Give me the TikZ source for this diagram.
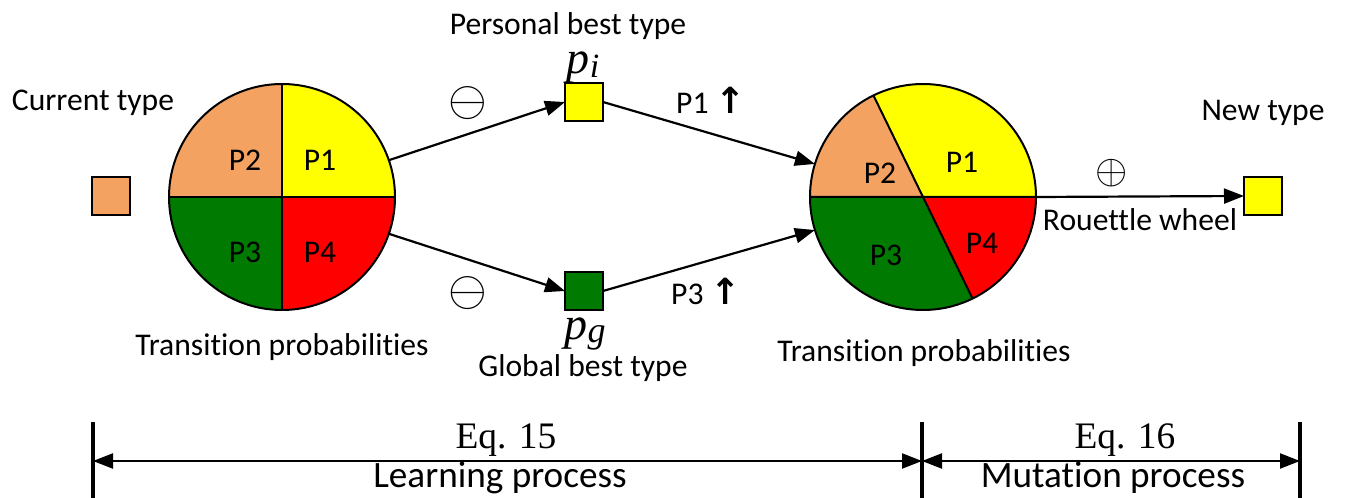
\documentclass[tikz,border=0pt]{standalone}
\usepackage{fontspec}
\setmainfont{Carlito}[Ligatures=NoCommon]
\newfontfamily\serifface{Liberation Serif}
\newfontfamily\symface{DejaVu Sans}
\usetikzlibrary{arrows.meta}
\definecolor{pyellow}{RGB}{255,255,0}
\definecolor{porange}{RGB}{244,162,97}
\definecolor{pgreen}{RGB}{0,122,0}
\definecolor{pred}{RGB}{255,0,0}
\begin{document}
\begin{tikzpicture}[x=0.5pt,y=0.5pt,
  lbl/.style={font=\fontsize{15.8}{18}\selectfont, inner sep=0},
  big/.style={font=\fontsize{18.6}{21}\selectfont, inner sep=0},
  eq/.style={font=\serifface\fontsize{18.7}{21}\selectfont, inner sep=0},
  mathlbl/.style={font=\serifface\itshape\fontsize{23}{24}\selectfont, inner sep=0},
  opsym/.style={font=\fontsize{23}{24}\selectfont, inner sep=0},
  box/.style={draw, line width=1pt, minimum size=19pt, inner sep=0, outer sep=0},
  wheel/.style={circle, minimum size=113pt, inner sep=0, outer sep=0},
  tip/.style={Triangle[length=10pt,width=7.5pt]},
  conn/.style={line width=1.1pt, -{Triangle[length=10pt,width=7.5pt]}},
  span/.style={line width=1.1pt, {Triangle[length=10pt,width=7.5pt]}-{Triangle[length=10pt,width=7.5pt]}},
  edge/.style={line width=1pt},
  bar/.style={line width=2pt}]
\useasboundingbox (0,0) rectangle (1345,498);

% ---- wheels ----
\node[wheel] (L) at (282,301) {};
\node[wheel] (R) at (923,301) {};

% left wheel: four equal quarters
\fill[pyellow] (L.center) -- ++(0:113)   arc[start angle=0,   end angle=90,  radius=113] -- cycle;
\fill[porange] (L.center) -- ++(90:113)  arc[start angle=90,  end angle=180, radius=113] -- cycle;
\fill[pgreen]  (L.center) -- ++(180:113) arc[start angle=180, end angle=270, radius=113] -- cycle;
\fill[pred]    (L.center) -- ++(270:113) arc[start angle=270, end angle=360, radius=113] -- cycle;
\draw[edge] (L.north) -- (L.south) (L.west) -- (L.east);
\draw[edge] (L.center) circle[radius=113];

% right wheel: P1 and P3 enlarged
\fill[pyellow] (R.center) -- ++(0:113)   arc[start angle=0,   end angle=116, radius=113] -- cycle;
\fill[porange] (R.center) -- ++(116:113) arc[start angle=116, end angle=180, radius=113] -- cycle;
\fill[pgreen]  (R.center) -- ++(180:113) arc[start angle=180, end angle=296, radius=113] -- cycle;
\fill[pred]    (R.center) -- ++(296:113) arc[start angle=296, end angle=360, radius=113] -- cycle;
\draw[edge] (R.west) -- (R.east) (R.116) -- (R.296);
\draw[edge] (R.center) circle[radius=113];

% sector labels
\node[lbl] (l2) at (245,338) {P2};
\node[lbl] (l1) at (320,338) {P1};
\node[lbl] (l3) at (245,246) {P3};
\node[lbl] (l4) at (320,246) {P4};
\node[lbl] (r1) at (962,336) {P1};
\node[lbl] (r2) at (880,325) {P2};
\node[lbl] (r3) at (886,243) {P3};
\node[lbl] (r4) at (982,255) {P4};

% ---- type boxes ----
\node[box, fill=porange] (cur) at (111,302) {};
\node[box, fill=pyellow] (pi)  at (584,396) {};
\node[box, fill=pgreen]  (pg)  at (584,207) {};
\node[box, fill=pyellow] (new) at (1263,302) {};

% ---- connectors ----
\draw[conn] (L.19)  -- (pi.west);
\draw[conn] (L.-19) -- (pg.west);
\draw[conn] (pi.east) -- (R.163);
\draw[conn] (pg.east) -- (R.197);
\draw[conn] (R.east) -- (new.west);

% ---- labels ----
\node[lbl] (tcur) at (93,395) {Current type};
\node[lbl] (tpi)  at (568,472) {Personal best type};
\node[mathlbl] (spi) at (583,430) {p\raisebox{-0.15ex}{\fontsize{17}{18}\selectfont i}};
\node[mathlbl] (spg) at (585,164) {p\raisebox{-0.15ex}{\fontsize{18}{18}\selectfont g}};
\node[lbl] (tpg)  at (583,130) {Global best type};
\node[opsym] (m1) at (468,395) {$\ominus$};
\node[opsym] (m2) at (468,205) {$\ominus$};
\node[lbl] (up1) at (711,398) {P1 {\symface\bfseries\fontsize{18}{18}\selectfont ↑}};
\node[lbl] (up3) at (706,207) {P3 {\symface\bfseries\fontsize{18}{18}\selectfont ↑}};
\node[lbl] (tl)  at (282,151) {Transition probabilities};
\node[lbl] (tr)  at (924,145) {Transition probabilities};
\node[lbl] (tnew) at (1263,385) {New type};
\node[opsym, font=\fontsize{21}{22}\selectfont] (pl) at (1112,325) {$\oplus$};
\node[lbl] (rw) at (1140,278) {Rouettle wheel};

% ---- process spans ----
\coordinate (b1) at (93,37);
\coordinate (b2) at (922,37);
\coordinate (b3) at (1300,37);
\draw[bar] (93,-4) -- (93,76);
\draw[bar] (922,-4) -- (922,76);
\draw[bar] (1300,-4) -- (1300,76);
\draw[span] (b1) -- (b2);
\draw[span] (b2) -- (b3);
\node[eq]  (e15) at (506,58) {Eq. 15};
\node[big] (lp)  at (500,20) {Learning process};
\node[eq]  (e16) at (1125,58) {Eq. 16};
\node[big] (mp)  at (1113,20) {Mutation process};
\end{tikzpicture}
\end{document}
